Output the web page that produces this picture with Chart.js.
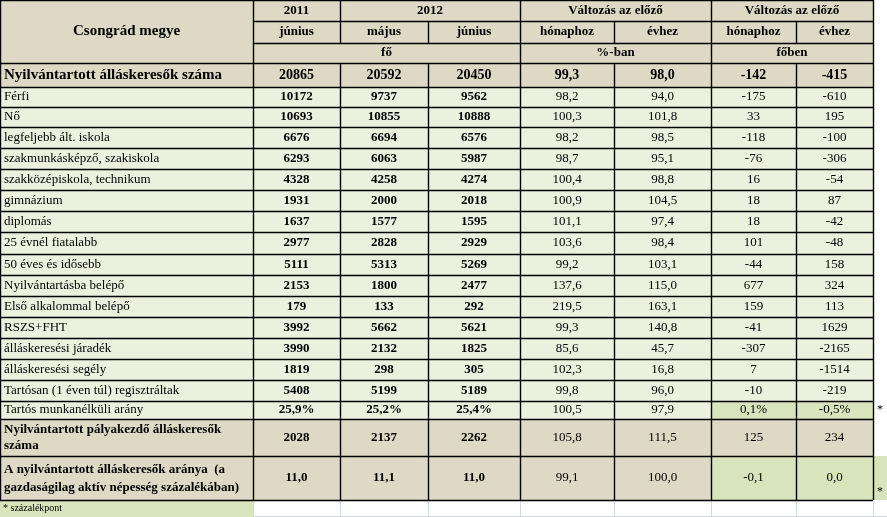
<!DOCTYPE html>
<html>
<head>
<meta charset="utf-8">
<script src="https://cdn.jsdelivr.net/npm/chart.js@4"></script>
<style>
  body { margin: 0; background: #fff; }
</style>
</head>
<body>
<canvas id="myChart" width="887" height="517"></canvas>
<script>
// Adatok
const rowLabels = ["Nyilvántartott álláskeresők száma", "Férfi", "Nő", "legfeljebb ált. iskola",
  "szakmunkásképző, szakiskola", "szakközépiskola, technikum", "gimnázium", "diplomás",
  "25 évnél fiatalabb", "50 éves és idősebb", "Nyilvántartásba belépő", "Első alkalommal belépő",
  "RSZS+FHT", "álláskeresési járadék", "álláskeresési segély", "Tartósan (1 éven túl) regisztráltak",
  "Tartós munkanélküli arány", "Nyilvántartott pályakezdő álláskeresők száma",
  "A nyilvántartott álláskeresők aránya  (a gazdaságilag aktív népesség százalékában)"];
const jun2011 = [20865, 10172, 10693, 6676, 6293, 4328, 1931, 1637, 2977, 5111, 2153, 179, 3992, 3990, 1819, 5408, 25.9, 2028, 11.0];
const maj2012 = [20592, 9737, 10855, 6694, 6063, 4258, 2000, 1577, 2828, 5313, 1800, 133, 5662, 2132, 298, 5199, 25.2, 2137, 11.1];
const jun2012 = [20450, 9562, 10888, 6576, 5987, 4274, 2018, 1595, 2929, 5269, 2477, 292, 5621, 1825, 305, 5189, 25.4, 2262, 11.0];
const pctMonth = [99.3, 98.2, 100.3, 98.2, 98.7, 100.4, 100.9, 101.1, 103.6, 99.2, 137.6, 219.5, 99.3, 85.6, 102.3, 99.8, 100.5, 105.8, 99.1];
const pctYear = [98.0, 94.0, 101.8, 98.5, 95.1, 98.8, 104.5, 97.4, 98.4, 103.1, 115.0, 163.1, 140.8, 45.7, 16.8, 96.0, 97.9, 111.5, 100.0];
const diffMonth = [-142, -175, 33, -118, -76, 16, 18, 18, 101, -44, 677, 159, -41, -307, 7, -10, 0.1, 125, -0.1];
const diffYear = [-415, -610, 195, -100, -306, -54, 87, -42, -48, 158, 324, 113, 1629, -2165, -1514, -219, -0.5, 234, 0.0];
const rowKind = ["n", "n", "n", "n", "n", "n", "n", "n", "n", "n", "n", "n", "n", "n", "n", "n", "pct", "n", "dec"];

// Elrendezés
const colX = [0, 253, 340, 428, 520, 614, 711, 796, 873, 887];
const rowY = [0, 21, 43, 63, 87, 107, 127, 148, 169, 190, 211, 232, 254, 275, 296, 317, 338, 359, 380, 401, 419, 456, 500, 517];

const TAN = "#ddd9c4", LIGHT = "#ebf1de", GREEN = "#d8e4bc";
const SERIF = '"Liberation Serif", "Times New Roman", serif';

function fmt(v, kind, dec) {
  if (kind === "n" && !dec) return String(v);
  let s = v.toFixed(1).replace(".", ",");
  if (kind === "pct") s += "%";
  return s;
}

const tablePlugin = {
  id: 'table',
  afterDraw(chart) {
    const ctx = chart.ctx;
    const px = v => chart.scales.x.getPixelForValue(v);
    const py = v => chart.scales.y.getPixelForValue(v);

    function cell(c0, c1, r0, r1, bg) {
      ctx.fillStyle = bg;
      ctx.fillRect(px(colX[c0]), py(rowY[r0]), px(colX[c1]) - px(colX[c0]), py(rowY[r1]) - py(rowY[r0]));
    }
    function text(t, c0, c1, r0, r1, font, align) {
      ctx.font = font;
      ctx.fillStyle = "#000";
      ctx.textBaseline = "middle";
      const y = (py(rowY[r0]) + py(rowY[r1])) / 2;
      if (align === "left") {
        ctx.textAlign = "left";
        ctx.fillText(t, px(colX[c0]) + 4, y);
      } else {
        ctx.textAlign = "center";
        ctx.fillText(t, (px(colX[c0]) + px(colX[c1])) / 2, y);
      }
    }
    function line(x0, y0, x1, y1, color, w) {
      ctx.strokeStyle = color;
      ctx.lineWidth = w;
      ctx.beginPath();
      ctx.moveTo(x0, y0);
      ctx.lineTo(x1, y1);
      ctx.stroke();
    }

    // háttér
    cell(0, 8, 0, 3, TAN);
    rowLabels.forEach((lab, i) => {
      const r = i + 3;
      const bg = (i === 0 || i >= 17) ? TAN : LIGHT;
      cell(0, 8, r, r + 1, bg);
      if (i === 16 || i === 18) cell(6, 8, r, r + 1, GREEN);
    });
    cell(8, 9, 21, 22, GREEN);
    cell(0, 1, 22, 23, GREEN);

    // világos rács az alsó sorban
    for (let c = 1; c < colX.length - 1; c++) line(px(colX[c]) + 0.5, py(rowY[22]), px(colX[c]) + 0.5, py(rowY[23]), "#d0d7e5", 1);
    line(px(colX[1]), py(rowY[23]) - 0.5, px(colX[9]), py(rowY[23]) - 0.5, "#d0d7e5", 1);

    // fejléc
    const hb = "bold 13px " + SERIF;
    text("Csongrád megye", 0, 1, 0, 3, "bold 15px " + SERIF);
    text("2011", 1, 2, 0, 1, hb);
    text("2012", 2, 4, 0, 1, hb);
    text("Változás az előző", 4, 6, 0, 1, hb);
    text("Változás az előző", 6, 8, 0, 1, hb);
    ["június", "május", "június", "hónaphoz", "évhez", "hónaphoz", "évhez"].forEach((t, k) => text(t, k + 1, k + 2, 1, 2, hb));
    text("fő", 1, 4, 2, 3, hb);
    text("%-ban", 4, 6, 2, 3, hb);
    text("főben", 6, 8, 2, 3, hb);

    // adatsorok
    rowLabels.forEach((lab, i) => {
      const r = i + 3;
      const kind = rowKind[i];
      const bold = i === 0 || i >= 17;
      const lf = i === 0 ? "bold 15px " + SERIF : (bold ? "bold 13px " + SERIF : "13px " + SERIF);
      if (i === 17) {
        ctx.font = lf; ctx.fillStyle = "#000"; ctx.textAlign = "left"; ctx.textBaseline = "middle";
        ctx.fillText("Nyilvántartott pályakezdő álláskeresők", px(colX[0]) + 4, py(rowY[r]) + 11);
        ctx.fillText("száma", px(colX[0]) + 4, py(rowY[r]) + 27);
      } else if (i === 18) {
        ctx.font = lf; ctx.fillStyle = "#000"; ctx.textAlign = "left"; ctx.textBaseline = "middle";
        ctx.fillText("A nyilvántartott álláskeresők aránya  (a", px(colX[0]) + 4, py(rowY[r]) + 14);
        ctx.fillText("gazdaságilag aktív népesség százalékában)", px(colX[0]) + 4, py(rowY[r]) + 32);
      } else {
        text(lab, 0, 1, r, r + 1, lf, "left");
      }
      const vb = i === 0 ? "bold 14px " + SERIF : "bold 13px " + SERIF;
      const vn = i === 0 ? "bold 14px " + SERIF : "13px " + SERIF;
      text(fmt(jun2011[i], kind), 1, 2, r, r + 1, vb);
      text(fmt(maj2012[i], kind), 2, 3, r, r + 1, vb);
      text(fmt(jun2012[i], kind), 3, 4, r, r + 1, vb);
      text(fmt(pctMonth[i], "dec"), 4, 5, r, r + 1, vn);
      text(fmt(pctYear[i], "dec"), 5, 6, r, r + 1, vn);
      text(fmt(diffMonth[i], kind), 6, 7, r, r + 1, vn);
      text(fmt(diffYear[i], kind), 7, 8, r, r + 1, vn);
    });
    // csillagok
    ctx.font = "12px " + SERIF; ctx.textAlign = "center"; ctx.fillStyle = "#000";
    ctx.fillText("*", px(880), py(410));
    ctx.fillText("*", px(880), py(492));
    ctx.font = "10px " + SERIF; ctx.textAlign = "left";
    ctx.fillText("* százalékpont", px(3), py(508));

    // rácsvonalak
    const K = "#000";
    for (let r = 0; r <= 22; r++) {
      let x0 = 0, x1 = 8;
      if (r === 1) x0 = 1;
      if (r === 2) x0 = 1;
      line(px(colX[x0]), py(rowY[r]) + 0.5, px(colX[x1]), py(rowY[r]) + 0.5, K, 1.4);
    }
    // függőleges vonalak
    for (let c = 0; c <= 8; c++) {
      const segs = [];
      if (c === 3 || c === 5 || c === 7) {
        segs.push([0, 1], [1, 2], [3, 22]);
        if (c === 3) segs.splice(1, 1);
        segs.length = 0;
        segs.push([1, 2], [3, 22]);
        if (c === 3) segs[0] = [1, 2];
      } else if (c === 2) {
        segs.push([0, 2], [3, 22]);
      } else {
        segs.push([0, 22]);
      }
      segs.forEach(s => line(px(colX[c]) + 0.5, py(rowY[s[0]]), px(colX[c]) + 0.5, py(rowY[s[1]]), K, 1.4));
    }
  }
};

new Chart("myChart", {
  type: "scatter",
  data: { datasets: [{ data: [] }] },
  options: {
    responsive: false,
    animation: false,
    layout: { padding: 0 },
    plugins: { legend: { display: false }, tooltip: { enabled: false } },
    scales: {
      x: { type: "linear", min: 0, max: 887, display: false },
      y: { type: "linear", min: 0, max: 517, reverse: true, display: false }
    }
  },
  plugins: [tablePlugin]
});
</script>
</body>
</html>
